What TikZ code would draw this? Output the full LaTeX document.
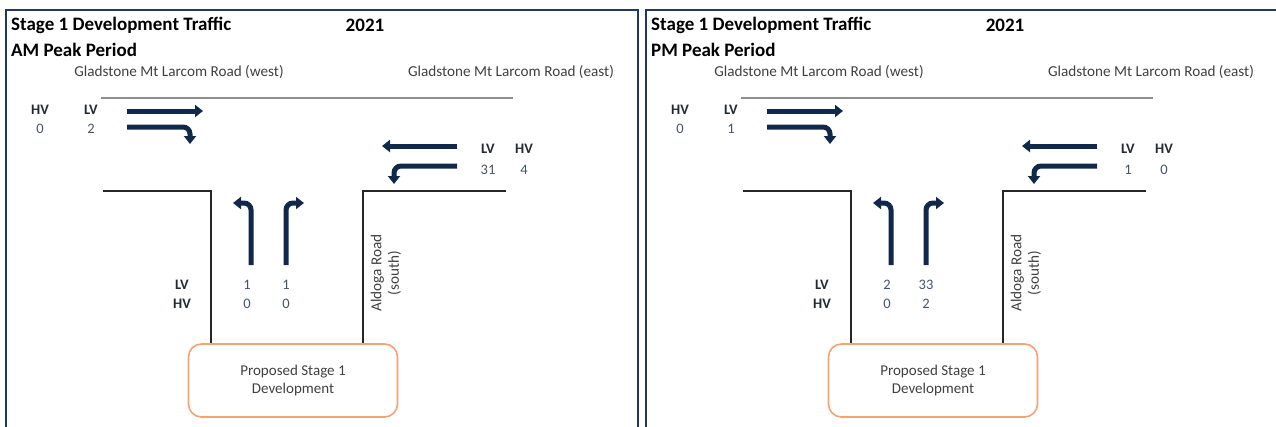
\documentclass[tikz,border=0pt]{standalone}
\usepackage{fontspec}
\setmainfont{Carlito}
\usetikzlibrary{arrows.meta}
\definecolor{framecolor}{HTML}{1F3864}
\definecolor{arrowcolor}{HTML}{10284A}
\definecolor{labelcolor}{HTML}{222A35}
\definecolor{valuecolor}{HTML}{44546A}
\definecolor{roadtext}{HTML}{404040}
\definecolor{boxcolor}{HTML}{F5A273}
\colorlet{kerbcolor}{black!85}
\colorlet{centrecolor}{gray!90}
\tikzset{
    % --- panel and road lines ---
    panel_frame/.style={draw=framecolor, line width=1.6pt},
    kerb_line/.style={draw=kerbcolor, line width=1.1pt},
    top_line/.style={draw=centrecolor, line width=1.8pt},
    % --- movement arrows ---
    flow_arrow/.style={draw=arrowcolor, line width=5pt, -{Triangle[length=8pt,width=12pt]}},
    turn_arrow/.style={flow_arrow, rounded corners=7pt},
    % --- texts ---
    title_txt/.style={inner sep=0pt, font=\fontsize{19}{22}\selectfont\bfseries},
    road_txt/.style={inner sep=0pt, text=roadtext, font=\fontsize{15.2}{17.5}\selectfont},
    veh_lbl/.style={inner sep=0pt, text=labelcolor, font=\fontsize{14.5}{17}\selectfont\bfseries},
    veh_val/.style={inner sep=0pt, text=valuecolor, font=\fontsize{14.5}{17}\selectfont},
    dev_box/.style={draw=boxcolor, line width=1.6pt, rounded corners=13pt,
                    minimum width=209pt, minimum height=73pt, align=center,
                    text=roadtext, font=\fontsize{15}{18}\selectfont}
}
% #1 period, #2-#3 west HV/LV, #4-#5 east LV/HV, #6-#7 south LV, #8-#9 south HV
\newcommand{\peakpanel}[9]{%
    \node[title_txt, anchor=west] (title) at (11,25) {Stage 1 Development Traffic};
    \node[title_txt] (year) at (365,25) {2021};
    \node[title_txt, anchor=west] (period) at (11,50) {#1 Peak Period};
    \node[road_txt] (west_name) at (179,72) {Gladstone Mt Larcom Road (west)};
    \node[road_txt] (east_name) at (511,72) {Gladstone Mt Larcom Road (east)};
    \node[road_txt, rotate=90, align=center] (south_name) at (386,273) {Aldoga Road\\(south)};

    \draw[top_line] (101,98) -- (513,98);
    \draw[kerb_line] (103,191) -- (211,191) -- (211,344);
    \draw[kerb_line] (506,191) -- (363,191) -- (363,344);

    \node[dev_box] (dev) at (293,380.5) {Proposed Stage 1\\Development};

    % west approach
    \node[veh_lbl] (west_hv) at (40,110) {HV};
    \node[veh_lbl] (west_lv) at (91,110) {LV};
    \node[veh_val] (west_hv_n) at (40,129) {#2};
    \node[veh_val] (west_lv_n) at (91,129) {#3};
    \draw[flow_arrow] (127,111) -- (203,111);
    \draw[turn_arrow] (127,127) -| (190,144);

    % east approach
    \node[veh_lbl] (east_lv) at (488,149) {LV};
    \node[veh_lbl] (east_hv) at (524,149) {HV};
    \node[veh_val] (east_lv_n) at (488,170) {#4};
    \node[veh_val] (east_hv_n) at (524,170) {#5};
    \draw[flow_arrow] (457,146) -- (382,146);
    \draw[turn_arrow] (457,166) -| (394,184);

    % south approach
    \node[veh_lbl] (south_lv) at (182,285) {LV};
    \node[veh_lbl] (south_hv) at (182,304) {HV};
    \node[veh_val] (left_lv_n) at (247,285) {#6};
    \node[veh_val] (right_lv_n) at (286,285) {#7};
    \node[veh_val] (left_hv_n) at (247,304) {#8};
    \node[veh_val] (right_hv_n) at (286,304) {#9};
    \draw[turn_arrow] (251,265) |- (233,203);
    \draw[turn_arrow] (286,265) |- (304,203);
}

\begin{document}
\begin{tikzpicture}[x=1pt, y=-1pt]
    \useasboundingbox (0,0) rectangle (1276,426);
    \clip (0,0) rectangle (1276,426);

    \draw[panel_frame] (6,10) rectangle (638,440);
    \draw[panel_frame] (646,10) rectangle (1290,440);

    \begin{scope}[name prefix=am_]
        \peakpanel{AM}{0}{2}{31}{4}{1}{1}{0}{0}
    \end{scope}
    \begin{scope}[shift={(640,0)}, name prefix=pm_]
        \peakpanel{PM}{0}{1}{1}{0}{2}{33}{0}{2}
    \end{scope}
\end{tikzpicture}
\end{document}
